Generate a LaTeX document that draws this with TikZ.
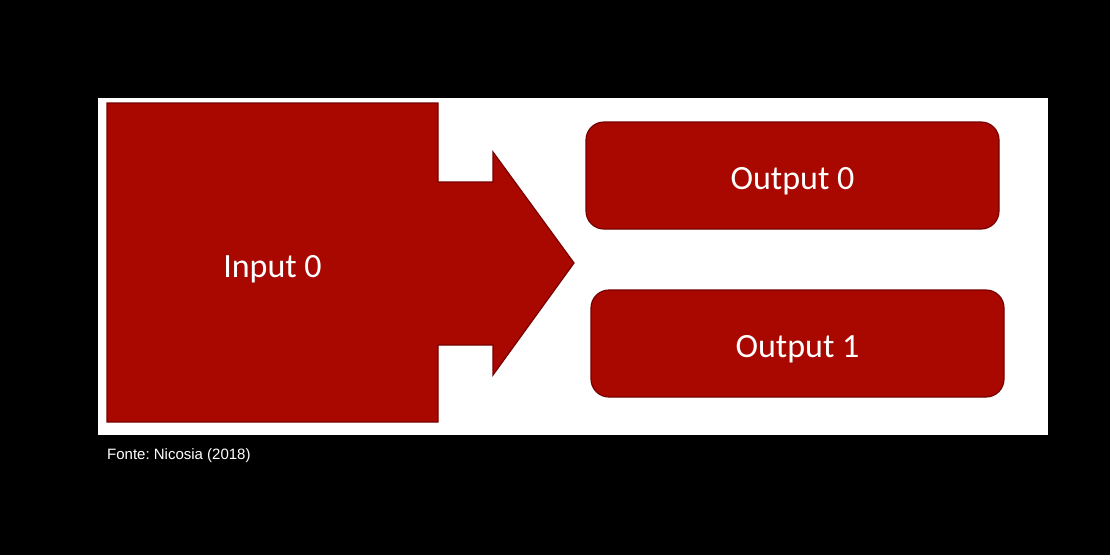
\documentclass[tikz,border=0pt]{standalone}
\usepackage{fontspec}
\setmainfont{Carlito}
\newfontfamily\capfont{Liberation Sans}
\usepackage{tikz}
\usetikzlibrary{positioning}
\frenchspacing

\definecolor{blocored}{RGB}{168,8,0}
\definecolor{bordared}{RGB}{120,0,0}

\tikzset{
    bloco/.style={fill=blocored, draw=bordared, line width=1.2pt},
    rotulo/.style={text=white, font=\fontsize{34}{38}\selectfont, text height=22pt, text depth=0pt},
    saida/.style={bloco, rotulo, text height=27pt, rounded corners=18pt, minimum width=413pt, minimum height=107pt},
}

\begin{document}
\begin{tikzpicture}[x=1pt, y=-1pt]
    % Fundo preto e quadro branco
    \fill[black] (0,0) rectangle (1110,555);
    \useasboundingbox (0,0) rectangle (1110,555);
    \fill[white] (98,98) rectangle (1048,435);

    % Bloco de entrada com seta
    \draw[bloco] (107,103) -- (438,103) -- (438,182) -- (493,182) -- (493,152)
        -- (574,263) -- (493,375) -- (493,345) -- (438,345) -- (438,422)
        -- (107,422) -- cycle;
    \node[rotulo] (in0) at (272.5,266) {Input 0};

    % Blocos de saida
    \node[saida] (out0) at (792.5,175.5) {Output 0};
    \node[saida] (out1) at (797.5,343.5) {Output 1};

    % Fonte
    \node[anchor=base west, text=white, font=\capfont\fontsize{15}{18}\selectfont, inner sep=0pt] (fonte) at (107,459) {Fonte: Nicosia (2018)};
\end{tikzpicture}
\end{document}
